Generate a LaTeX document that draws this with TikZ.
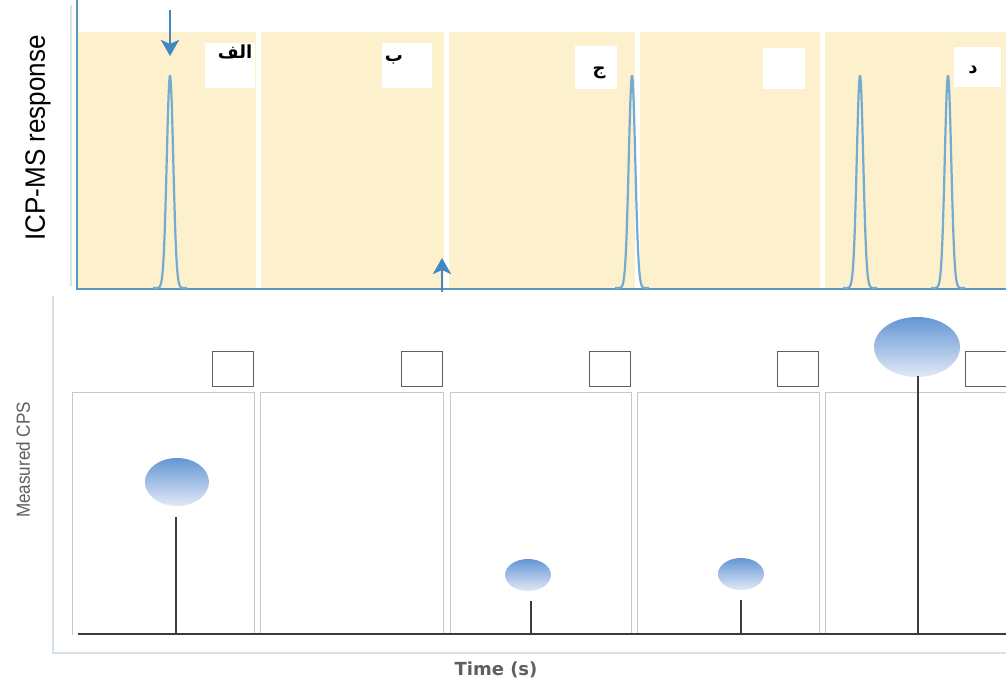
\documentclass[tikz,border=0pt]{standalone}
\usepackage{fontspec}
\setmainfont{Liberation Sans}
\newfontfamily\arabicfont[Script=Arabic]{DejaVu Sans}
\newfontfamily\axisfont{DejaVu Sans}
\TeXXeTstate=1
\usetikzlibrary{arrows.meta,shapes.geometric}
\definecolor{panelbg}{RGB}{253,240,205}
\definecolor{axisblue}{RGB}{90,150,190}
\definecolor{peakblue}{RGB}{115,172,208}
\definecolor{arrowblue}{RGB}{65,135,195}
\definecolor{ballTop}{RGB}{100,150,212}
\definecolor{ballBot}{RGB}{225,233,246}
\definecolor{frame}{RGB}{200,200,200}
\definecolor{outer}{RGB}{215,225,235}
\definecolor{boxedge}{RGB}{95,95,95}
\definecolor{stem}{RGB}{60,60,60}
\definecolor{labelgray}{RGB}{95,95,95}
\tikzset{
  peak/.style={peakblue, line width=2.2pt},
  sep/.style={white, line width=5pt},
  tag/.style={fill=white, inner sep=0pt},
  letter/.style={inner sep=0pt, font=\arabicfont\bfseries\fontsize{18}{20}\selectfont},
  marker/.style={-{Stealth[length=16pt,width=18pt,inset=4pt]}, arrowblue, line width=2.8pt},
  cell/.style={draw=frame, line width=1pt},
  chip/.style={draw=boxedge, line width=1.4pt, fill=white, minimum width=41pt, minimum height=35pt, inner sep=0pt},
  ball/.style={ellipse, top color=ballTop, bottom color=ballBot, draw=none},
  rod/.style={stem, line width=1.8pt},
}
\begin{document}
\begin{tikzpicture}[x=1pt, y=-1pt]
\useasboundingbox (0,0) rectangle (1006,688);
\fill[white] (0,0) rectangle (1006,688);

% ---- upper panel: ICP-MS signal over time ----
\fill[panelbg] (78,32) rectangle (1006,289);
\foreach \s in {258,446,637,822} \draw[sep] (\s,32) -- (\s,289);
\draw[black!12, line width=2pt] (71,5) -- (71,286);
\draw[axisblue, line width=1.6pt] (77,0) -- (77,289) -- (1006,289);

\foreach \p in {170,632,860,948}
  \draw[peak] plot[domain=-17:17, samples=90] ({\p+\x}, {288-212*exp(-(\x/4.6)^2)});

% label windows
\node[tag, minimum width=50pt, minimum height=45pt] (ta) at (230,65) {};
\node[tag, minimum width=50pt, minimum height=45pt] (tb) at (407,65) {};
\node[tag, minimum width=42pt, minimum height=43pt] (tc) at (596,67) {};
\node[tag, minimum width=42pt, minimum height=41pt] (td) at (784,68) {};
\node[tag, minimum width=47pt, minimum height=40pt] (te) at (977,67) {};
\node[letter] (la) at (235,52) {\beginR الف\endR};
\node[letter] (lb) at (394,60) {\beginR ب\endR};
\node[letter] (lc) at (599,73) {\beginR ج\endR};
\node[letter] (le) at (973,70) {\beginR د\endR};

\coordinate (inA) at (170,10);
\coordinate (inAend) at (170,56);
\draw[marker] (inA) -- (inAend);
\coordinate (inB) at (442,292);
\coordinate (inBend) at (442,258);
\draw[marker] (inB) -- (inBend);

\node[rotate=90, font=\fontsize{28}{30}\selectfont, xscale=0.93] (ylab1) at (38,138) {ICP-MS response};

% ---- lower panel: measured counts per particle ----
\draw[outer, line width=1.2pt] (53,296) -- (53,653) -- (1006,653);
\foreach \a/\b in {72/254, 260/443, 450/631, 637/819, 825/1010}
  \draw[cell] (\a,635) -- (\a,392) -- (\b,392) -- (\b,635);
\draw[stem, line width=1.6pt] (78,634) -- (1006,634);

\node[chip] (c1) at (233,369) {};
\node[chip] (c2) at (422,369) {};
\node[chip] (c3) at (610,369) {};
\node[chip] (c4) at (798,369) {};
\node[chip] (c5) at (986,369) {};

\node[ball, minimum width=64pt, minimum height=48pt] (b1) at (177,482) {};
\node[ball, minimum width=46pt, minimum height=32pt] (b3) at (528,575) {};
\node[ball, minimum width=46pt, minimum height=32pt] (b4) at (741,574) {};
\node[ball, minimum width=86pt, minimum height=60pt] (b5) at (917,347) {};

\coordinate (g1) at (176,634);
\coordinate (g3) at (531,634);
\coordinate (g4) at (741,634);
\coordinate (g5) at (918,634);
\draw[rod] (176,517) -- (g1);
\draw[rod] (531,601) -- (g3);
\draw[rod] (741,600) -- (g4);
\draw[rod] (918,376) -- (g5);

\node[rotate=90, font=\fontsize{19}{21}\selectfont, xscale=0.9, text=labelgray] (ylab2) at (23,460) {Measured CPS};
\node[font=\axisfont\bfseries\fontsize{18}{20}\selectfont, text=labelgray] (xlab) at (496,670) {Time (s)};
\end{tikzpicture}
\end{document}
